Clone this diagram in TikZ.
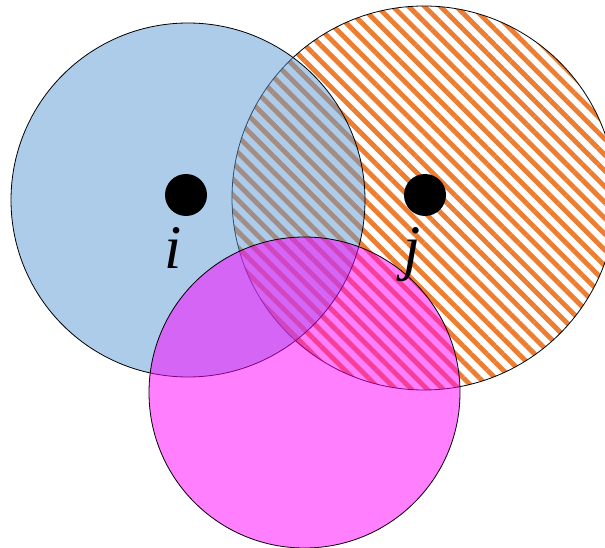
\documentclass[tikz,border=0pt]{standalone}
\usepackage{fontspec}
\setmainfont{Liberation Serif}
\usetikzlibrary{patterns.meta}
\definecolor{hatchorange}{HTML}{ED7D31}
\definecolor{setblue}{HTML}{5B9BD5}
\definecolor{setmagenta}{HTML}{FF00FF}
\tikzset{
  setcircle/.style={circle, inner sep=0pt, outer sep=0pt, draw=black, line width=0.8pt},
  dotnode/.style={circle, fill=black, inner sep=0pt, minimum size=42pt},
  lbl/.style={font=\fontsize{62}{62}\selectfont\itshape, inner sep=0pt, anchor=base}
}
\begin{document}
\begin{tikzpicture}[x=1pt,y=-1pt]
\useasboundingbox (0,0) rectangle (605,548);
\fill[white] (0,0) rectangle (605,548);
\node[setcircle, minimum size=384pt,
  pattern={Lines[angle=-45,distance=11.2pt,line width=4.8pt]},
  pattern color=hatchorange] (J) at (424,198) {};
\node[setcircle, minimum size=354pt, fill=setblue, fill opacity=0.5] (I) at (188,200) {};
\node[setcircle, minimum size=311pt, fill=setmagenta, fill opacity=0.5] (K) at (304.5,392.5) {};
\node[dotnode] (di) at (186,195) {};
\node[dotnode] (dj) at (425,195) {};
\node[lbl] (li) at (173,268) {i};
\node[lbl] (lj) at (412,268) {j};
\end{tikzpicture}
\end{document}
